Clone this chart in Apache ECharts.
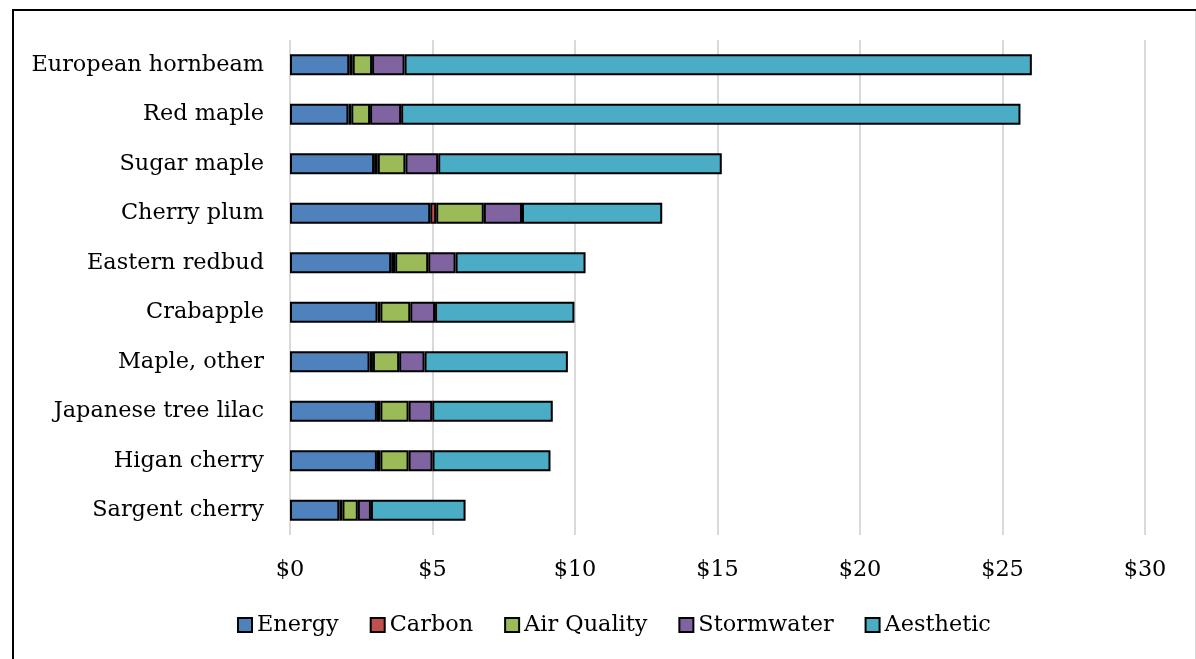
<!DOCTYPE html>
<html>
<head>
<meta charset="utf-8">
<title>Annual benefits per tree by species</title>
<script src="https://cdn.jsdelivr.net/npm/echarts@6/dist/echarts.min.js"></script>
<style>
  html, body { margin: 0; padding: 0; background: #ffffff; }
  #chart { width: 1196px; height: 659px; }
</style>
</head>
<body>
<div id="chart"></div>
<script>
// Tree species, top to bottom
const species = [
  'European hornbeam', 'Red maple', 'Sugar maple', 'Cherry plum', 'Eastern redbud',
  'Crabapple', 'Maple, other', 'Japanese tree lilac', 'Higan cherry', 'Sargent cherry'
];

// Benefit per tree in dollars, by category
const energy     = [2.08, 2.05, 2.95, 4.92, 3.55, 3.07, 2.79, 3.05, 3.05, 1.73];
const carbon     = [0.12, 0.10, 0.13, 0.21, 0.14, 0.10, 0.12, 0.12, 0.12, 0.11];
const airQuality = [0.68, 0.66, 0.97, 1.67, 1.16, 1.05, 0.92, 0.99, 0.99, 0.54];
const stormwater = [1.14, 1.09, 1.15, 1.34, 0.96, 0.87, 0.89, 0.83, 0.84, 0.46];
const aesthetic  = [22.01, 21.73, 9.95, 4.92, 4.56, 4.89, 5.03, 4.23, 4.14, 3.32];

const seriesNames = ['Energy', 'Carbon', 'Air Quality', 'Stormwater', 'Aesthetic'];
const seriesData = [energy, carbon, airQuality, stormwater, aesthetic];
const seriesColors = ['#4f81bd', '#c0504d', '#9bbb59', '#8064a2', '#4bacc6'];

const xTicks = { min: 0, max: 30, step: 5 };

const FONT = '"DejaVu Serif", "Liberation Serif", serif';
const FONT_SIZE = 22.4;

const chart = echarts.init(document.getElementById('chart'), null, { renderer: 'canvas' });

chart.setOption({
  backgroundColor: '#ffffff',
  animation: false,
  textStyle: { fontFamily: FONT, color: '#000000' },
  grid: { left: 290, right: 51, top: 40, bottom: 124, containLabel: false },
  xAxis: {
    type: 'value',
    min: xTicks.min,
    max: xTicks.max,
    interval: xTicks.step,
    axisLine: { show: false },
    axisTick: { show: false },
    splitLine: { show: true, lineStyle: { color: '#d9d9d9', width: 2 } },
    axisLabel: {
      formatter: v => '$' + v,
      fontFamily: FONT,
      fontSize: FONT_SIZE,
      color: '#000000',
      margin: 24
    }
  },
  yAxis: {
    type: 'category',
    inverse: true,
    data: species,
    axisLine: { show: false },
    axisTick: { show: false },
    splitLine: { show: false },
    axisLabel: {
      fontFamily: FONT,
      fontSize: FONT_SIZE,
      color: '#000000',
      margin: 26
    }
  },
  legend: {
    data: seriesNames,
    left: 232,
    top: 609,
    icon: 'rect',
    itemWidth: 14,
    itemHeight: 14,
    itemGap: 31,
    textStyle: { fontFamily: FONT, fontSize: FONT_SIZE, color: '#000000' },
    itemStyle: { borderColor: '#000000', borderWidth: 2 }
  },
  series: seriesNames.map((name, i) => ({
    name: name,
    type: 'bar',
    stack: 'total',
    barWidth: 21,
    data: seriesData[i],
    itemStyle: { color: seriesColors[i], borderColor: '#000000', borderWidth: 2 },
    emphasis: { disabled: true }
  })),
  graphic: [
    { type: 'line', shape: { x1: 13, y1: 10, x2: 13, y2: 659 }, style: { stroke: '#000000', lineWidth: 2 } },
    { type: 'line', shape: { x1: 12, y1: 10, x2: 1196, y2: 10 }, style: { stroke: '#000000', lineWidth: 2 } },
    { type: 'line', shape: { x1: 1195.5, y1: 11, x2: 1195.5, y2: 659 }, style: { stroke: '#d9d9d9', lineWidth: 1 } }
  ]
});
</script>
</body>
</html>
